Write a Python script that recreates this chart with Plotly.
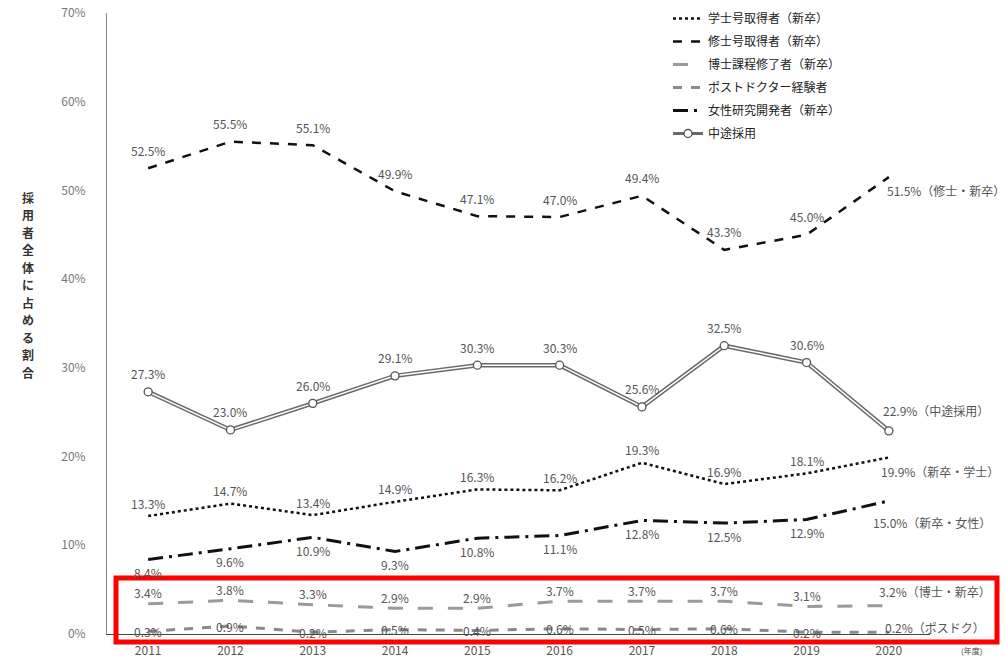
import plotly.graph_objects as go

years = ["2011", "2012", "2013", "2014", "2015", "2016", "2017", "2018", "2019", "2020"]
gakushi = [13.3, 14.7, 13.4, 14.9, 16.3, 16.2, 19.3, 16.9, 18.1, 19.9]
shushi = [52.5, 55.5, 55.1, 49.9, 47.1, 47.0, 49.4, 43.3, 45.0, 51.5]
hakase = [3.4, 3.8, 3.3, 2.9, 2.9, 3.7, 3.7, 3.7, 3.1, 3.2]
posdoc = [0.3, 0.9, 0.2, 0.5, 0.4, 0.6, 0.5, 0.6, 0.2, 0.2]
josei = [8.4, 9.6, 10.9, 9.3, 10.8, 11.1, 12.8, 12.5, 12.9, 15.0]
chuto = [27.3, 23.0, 26.0, 29.1, 30.3, 30.3, 25.6, 32.5, 30.6, 22.9]

names = ["学士号取得者（新卒）", "修士号取得者（新卒）", "博士課程修了者（新卒）",
         "ポストドクター経験者", "女性研究開発者（新卒）", "中途採用"]
end_suffix = ["（新卒・学士）", "（修士・新卒）", "（博士・新卒）", "（ポスドク）", "（新卒・女性）", "（中途採用）"]
yticks = [0, 10, 20, 30, 40, 50, 60, 70]
ytitle = "採用者全体に占める割合"

FONT = "Noto Sans CJK JP"
fig = go.Figure()

fig.add_trace(go.Scatter(x=years, y=gakushi, name=names[0], mode="lines", legendgroup="a",
                         line=dict(color="#111", width=2.5, dash="dot")))
fig.add_trace(go.Scatter(x=years, y=shushi, name=names[1], mode="lines", legendgroup="b",
                         line=dict(color="#111", width=2.5, dash="dash")))
fig.add_trace(go.Scatter(x=years, y=hakase, name=names[2], mode="lines", legendgroup="c",
                         line=dict(color="#9a9a9a", width=3, dash="longdash")))
fig.add_trace(go.Scatter(x=years, y=posdoc, name=names[3], mode="lines", legendgroup="d",
                         line=dict(color="#8a8a8a", width=3, dash="dash")))
fig.add_trace(go.Scatter(x=years, y=josei, name=names[4], mode="lines", legendgroup="e",
                         line=dict(color="#111", width=3, dash="longdashdot")))
fig.add_trace(go.Scatter(x=years, y=chuto, name=names[5], mode="lines", showlegend=False,
                         line=dict(color="#6a6a6a", width=4.5)))
fig.add_trace(go.Scatter(x=years, y=chuto, name=names[5], mode="lines+markers",
                         line=dict(color="white", width=1.5),
                         marker=dict(size=8, color="white", line=dict(color="#555", width=1.3)),
                         showlegend=False))
# legend proxy for 中途採用
fig.add_trace(go.Scatter(x=[None], y=[None], name=names[5], mode="lines+markers", legendgroup="f",
                         line=dict(color="#6a6a6a", width=3),
                         marker=dict(size=8, color="white", line=dict(color="#555", width=1.3))))

series = [gakushi, shushi, hakase, posdoc, josei, chuto]
yshifts = [13, 18, 11, 0, -13, 18]
end_shift = [(-10, -14), (-4, -13), (-12, 14), (-6, 5), (-18, -22), (-8, 20)]

ann = []
for si, vals in enumerate(series):
    for i, v in enumerate(vals):
        if i == len(vals) - 1:
            xs, ys = end_shift[si]
            ann.append(dict(x=i, y=v, text=f"{v:.1f}%{end_suffix[si]}", showarrow=False,
                            xshift=xs, yshift=ys, xanchor="left",
                            font=dict(size=12, color="#555", family=FONT)))
        else:
            ann.append(dict(x=i, y=v, text=f"{v:.1f}%", showarrow=False,
                            yshift=yshifts[si],
                            font=dict(size=12, color="#555", family=FONT)))

for k, ch in enumerate(ytitle):
    ypix = 197 + k * 17.5
    ann.append(dict(xref="paper", yref="paper", x=(28 - 107) / 823, y=(634 - ypix) / 621,
                    text=f"<b>{ch}</b>", showarrow=False,
                    font=dict(size=12, color="#333", family=FONT),
                    xanchor="center", yanchor="middle"))
ann.append(dict(xref="paper", yref="paper", x=(972 - 107) / 823, y=(634 - 643) / 621, text="(年度)",
                showarrow=False, font=dict(size=8, color="#444", family=FONT),
                xanchor="center", yanchor="top"))
fig.update_layout(annotations=ann)

fig.add_shape(type="rect", xref="paper", yref="paper", x0=(116 - 107) / 823, x1=(997 - 107) / 823,
              y0=(634 - 642) / 621, y1=(634 - 578) / 621,
              line=dict(color="#ff0000", width=5), fillcolor="rgba(0,0,0,0)")

fig.update_layout(
    width=1005, height=659,
    margin=dict(l=107, r=75, t=13, b=25, autoexpand=False),
    paper_bgcolor="white", plot_bgcolor="white",
    font=dict(family=FONT, color="#444"),
    showlegend=True,
    legend=dict(x=(668 - 107) / 823, y=1.0145, xanchor="left", yanchor="top",
                font=dict(size=12, color="#222", family=FONT),
                bgcolor="rgba(0,0,0,0)", tracegroupgap=4, itemwidth=30),
    xaxis=dict(type="category", range=[-0.5, 9.5], showgrid=False, ticks="",
               showline=True, linecolor="#444", linewidth=1, automargin=False,
               ticklabelstandoff=6,
               tickfont=dict(size=12, color="#555")),
    yaxis=dict(range=[0, 70], tickvals=yticks, ticktext=[f"{t}%" for t in yticks],
               showgrid=False, showline=True, linecolor="#888", linewidth=1,
               ticks="", ticklabelstandoff=18, zeroline=False, automargin=False,
               tickfont=dict(size=12, color="#777")),
)

fig.write_html("out.html")
